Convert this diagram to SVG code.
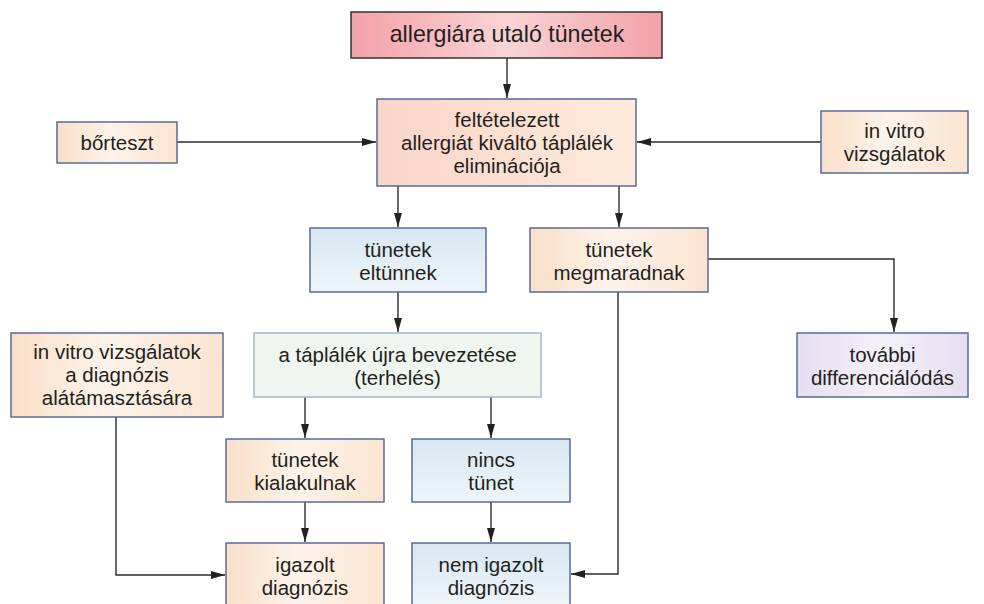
<svg xmlns="http://www.w3.org/2000/svg" width="984" height="604" viewBox="0 0 984 604">
<defs>
<linearGradient id="gPink" x1="0" y1="0" x2="1" y2="0">
<stop offset="0" stop-color="#f3a1a8"/><stop offset="0.5" stop-color="#f9d4d4"/><stop offset="1" stop-color="#f3a1a8"/>
</linearGradient>
<linearGradient id="gPeach" x1="0" y1="0" x2="1" y2="0">
<stop offset="0" stop-color="#f9dfc8"/><stop offset="0.45" stop-color="#fdf3ea"/><stop offset="1" stop-color="#fbe4d0"/>
</linearGradient>
<linearGradient id="gMain" x1="0" y1="0" x2="1" y2="0">
<stop offset="0" stop-color="#fad5c9"/><stop offset="1" stop-color="#fdebdb"/>
</linearGradient>
<linearGradient id="gBlue" x1="0" y1="0" x2="0" y2="1">
<stop offset="0" stop-color="#d8e7f1"/><stop offset="1" stop-color="#eef5fa"/>
</linearGradient>
<linearGradient id="gLav" x1="0" y1="0" x2="1" y2="0">
<stop offset="0" stop-color="#e6def0"/><stop offset="0.5" stop-color="#f4f0f8"/><stop offset="1" stop-color="#e6def0"/>
</linearGradient>
<marker id="arr" viewBox="0 0 14 8" refX="14" refY="4" markerWidth="14" markerHeight="8" markerUnits="userSpaceOnUse" orient="auto">
<path d="M0,0 L14,4 L0,8 Z" fill="#222"/>
</marker>
<style>
.box{stroke:#5a6b98;stroke-width:1.5}
.t{font-family:"Liberation Sans",Arial,sans-serif;font-size:20.5px;fill:#231f20;text-anchor:middle}
.c{fill:none;stroke:#2b2b2b;stroke-width:1.4}
</style>
</defs>

<g id="connectors">
<path class="c" d="M507,58 V98" marker-end="url(#arr)"/>
<path class="c" d="M177,142 H376" marker-end="url(#arr)"/>
<path class="c" d="M821,142 H637" marker-end="url(#arr)"/>
<path class="c" d="M398,186 V227" marker-end="url(#arr)"/>
<path class="c" d="M619,186 V227" marker-end="url(#arr)"/>
<path class="c" d="M398,292 V332" marker-end="url(#arr)"/>
<path class="c" d="M708,259 H894 V332" marker-end="url(#arr)"/>
<path class="c" d="M305,397 V438" marker-end="url(#arr)"/>
<path class="c" d="M491,397 V438" marker-end="url(#arr)"/>
<path class="c" d="M305,502 V542" marker-end="url(#arr)"/>
<path class="c" d="M491,502 V542" marker-end="url(#arr)"/>
<path class="c" d="M116,417 V575 H225" marker-end="url(#arr)"/>
<path class="c" d="M618,292 V574 H571" marker-end="url(#arr)"/>
</g>

<g id="n-title">
<rect x="351" y="12" width="311" height="46" fill="url(#gPink)" stroke="#333" stroke-width="1.5"/>
<text class="t" x="507" y="42" style="font-size:23.2px">allergiára utaló tünetek</text>
</g>

<g id="n-elim">
<rect class="box" x="377" y="99" width="259" height="87" fill="url(#gMain)"/>
<text class="t" x="507" y="127">feltételezett</text>
<text class="t" x="507" y="150">allergiát kiváltó táplálék</text>
<text class="t" x="507" y="173">eliminációja</text>
</g>

<g id="n-borteszt">
<rect class="box" x="57" y="122" width="120" height="41" fill="url(#gPeach)"/>
<text class="t" x="117" y="150">bőrteszt</text>
</g>

<g id="n-invitro1">
<rect class="box" x="821" y="111" width="147" height="62" fill="url(#gPeach)"/>
<text class="t" x="894.5" y="138">in vitro</text>
<text class="t" x="894.5" y="161">vizsgálatok</text>
</g>

<g id="n-eltunnek">
<rect class="box" x="310" y="228" width="176" height="64" fill="url(#gBlue)"/>
<text class="t" x="398" y="257">tünetek</text>
<text class="t" x="398" y="280">eltünnek</text>
</g>

<g id="n-megmaradnak">
<rect class="box" x="530" y="228" width="178" height="64" fill="url(#gPeach)"/>
<text class="t" x="619" y="257">tünetek</text>
<text class="t" x="619" y="280">megmaradnak</text>
</g>

<g id="n-terheles">
<rect x="254" y="333" width="287" height="64" fill="#eef6ef" stroke="#a3b8c6" stroke-width="1.5"/>
<text class="t" x="397.5" y="362">a táplálék újra bevezetése</text>
<text class="t" x="397.5" y="385">(terhelés)</text>
</g>

<g id="n-invitro2">
<rect class="box" x="11" y="333" width="212" height="84" fill="url(#gPeach)"/>
<text class="t" x="117" y="359">in vitro vizsgálatok</text>
<text class="t" x="117" y="382">a diagnózis</text>
<text class="t" x="117" y="405">alátámasztására</text>
</g>

<g id="n-tovabbi">
<rect class="box" x="797" y="333" width="171" height="64" fill="url(#gLav)"/>
<text class="t" x="882.5" y="362">további</text>
<text class="t" x="882.5" y="385">differenciálódás</text>
</g>

<g id="n-kialakulnak">
<rect class="box" x="226" y="439" width="158" height="63" fill="url(#gPeach)"/>
<text class="t" x="305" y="467">tünetek</text>
<text class="t" x="305" y="490">kialakulnak</text>
</g>

<g id="n-nincs">
<rect class="box" x="412" y="439" width="158" height="63" fill="url(#gBlue)"/>
<text class="t" x="491" y="467">nincs</text>
<text class="t" x="491" y="490">tünet</text>
</g>

<g id="n-igazolt">
<rect class="box" x="226" y="543" width="158" height="64" fill="url(#gPeach)"/>
<text class="t" x="305" y="572">igazolt</text>
<text class="t" x="305" y="595">diagnózis</text>
</g>

<g id="n-nemigazolt">
<rect class="box" x="412" y="543" width="158" height="64" fill="url(#gBlue)"/>
<text class="t" x="491" y="572">nem igazolt</text>
<text class="t" x="491" y="595">diagnózis</text>
</g>
</svg>
